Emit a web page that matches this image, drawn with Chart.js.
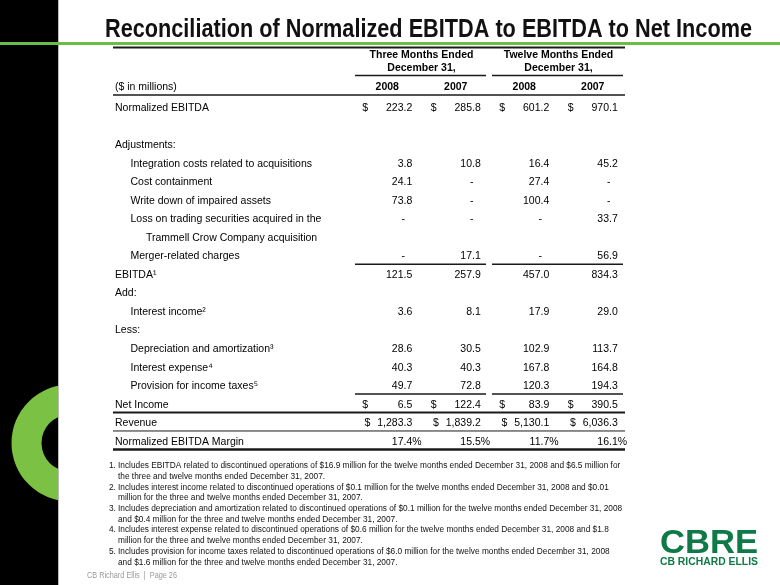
<!DOCTYPE html>
<html>
<head>
<meta charset="utf-8">
<script src="https://cdn.jsdelivr.net/npm/chart.js@4.4.1/dist/chart.umd.min.js"></script>
<style>
  html, body { margin: 0; padding: 0; background: #fff; overflow: hidden; }
  canvas { display: block; }
</style>
</head>
<body>
<canvas id="reconChart" width="780" height="585"></canvas>
<script>
// ---- data ----
const columns = ['Q4 2008', 'Q4 2007', 'FY 2008', 'FY 2007'];
const yearLabels = ['2008', '2007', '2008', '2007'];
const periodHeaders = [['Three Months Ended', 'December 31,'], ['Twelve Months Ended', 'December 31,']];

const rowLabels = [
  'Normalized EBITDA', '', 'Adjustments:',
  'Integration costs related to acquisitions', 'Cost containment', 'Write down of impaired assets',
  'Loss on trading securities acquired in the', 'Trammell Crow Company acquisition', 'Merger-related charges',
  'EBITDA¹', 'Add:', 'Interest income²', 'Less:',
  'Depreciation and amortization³', 'Interest expense⁴', 'Provision for income taxes⁵',
  'Net Income', 'Revenue', 'Normalized EBITDA Margin'
];
const rowIndent = [0, 0, 0, 1, 1, 1, 1, 2, 1, 0, 0, 1, 0, 1, 1, 1, 0, 0, 0];

// null = "-" on the slide
const normalizedEbitda = [223.2, 285.8, 601.2, 970.1];
const integrationCosts = [3.8, 10.8, 16.4, 45.2];
const costContainment  = [24.1, null, 27.4, null];
const impairedAssets   = [73.8, null, 100.4, null];
const tradingLoss      = [null, null, null, 33.7];
const mergerCharges    = [null, 17.1, null, 56.9];
const ebitda           = [121.5, 257.9, 457.0, 834.3];
const interestIncome   = [3.6, 8.1, 17.9, 29.0];
const depreciation     = [28.6, 30.5, 102.9, 113.7];
const interestExpense  = [40.3, 40.3, 167.8, 164.8];
const incomeTaxes      = [49.7, 72.8, 120.3, 194.3];
const netIncome        = [6.5, 122.4, 83.9, 390.5];
const revenue          = [1283.3, 1839.2, 5130.1, 6036.3];
const ebitdaMargin     = [17.4, 15.5, 11.7, 16.1];

const footnotes = [
  ['Includes EBITDA related to discontinued operations of $16.9 million for the twelve months ended December 31, 2008 and $6.5 million for',
   'the three and twelve months ended December 31, 2007.'],
  ['Includes interest income related to discontinued operations of $0.1 million for the twelve months ended December 31, 2008 and $0.01',
   'million for the three and twelve months ended December 31, 2007.'],
  ['Includes depreciation and amortization related to discontinued operations of $0.1 million for the twelve months ended December 31, 2008',
   'and $0.4 million for the three and twelve months ended December 31, 2007.'],
  ['Includes interest expense related to discontinued operations of $0.6 million for the twelve months ended December 31, 2008 and $1.8',
   'million for the three and twelve months ended December 31, 2007.'],
  ['Includes provision for income taxes related to discontinued operations of $6.0 million for the twelve months ended December 31, 2008',
   'and $1.6 million for the three and twelve months ended December 31, 2007.']
];

// which row gets which series
const rowSeries = {
  'Normalized EBITDA': normalizedEbitda,
  'Integration costs related to acquisitions': integrationCosts,
  'Cost containment': costContainment,
  'Write down of impaired assets': impairedAssets,
  'Loss on trading securities acquired in the': tradingLoss,
  'Merger-related charges': mergerCharges,
  'EBITDA¹': ebitda,
  'Interest income²': interestIncome,
  'Depreciation and amortization³': depreciation,
  'Interest expense⁴': interestExpense,
  'Provision for income taxes⁵': incomeTaxes,
  'Net Income': netIncome,
  'Revenue': revenue,
  'Normalized EBITDA Margin': ebitdaMargin
};
const dollarRows = ['Normalized EBITDA', 'Net Income', 'Revenue'];
const percentRows = ['Normalized EBITDA Margin'];

const FONT = "'Liberation Sans', Arial, sans-serif";
const GREEN = '#7bc143';

function fmt(v) {
  return v.toLocaleString('en-US', { minimumFractionDigits: 1, maximumFractionDigits: 1 });
}

function fitText(ctx, text, x, yb, width, font) {
  ctx.save();
  ctx.font = font;
  const m = ctx.measureText(text).width;
  ctx.translate(x, yb);
  ctx.scale(width / m, 1);
  ctx.textAlign = 'left';
  ctx.textBaseline = 'alphabetic';
  ctx.fillText(text, 0, 0);
  ctx.restore();
}

function hline(ctx, x1, x2, y, lw) {
  ctx.beginPath();
  ctx.lineWidth = lw;
  ctx.moveTo(x1, y);
  ctx.lineTo(x2, y);
  ctx.stroke();
}

// one dataset per column, one point per row that carries a value
const datasets = columns.map((col, c) => ({
  label: col,
  data: rowLabels.filter(l => rowSeries[l]).map(l => ({ x: col, y: l, v: rowSeries[l][c] })),
  showLine: false,
  pointRadius: 0,
  pointHoverRadius: 0
}));

const tablePlugin = {
  id: 'tablePlugin',
  beforeDraw(chart) {
    const ctx = chart.ctx;
    const xs = chart.scales.x, ys = chart.scales.y;
    const top = ys.top;
    const w = xs.width / columns.length;
    const cx = i => xs.getPixelForValue(i);
    const tableL = 113, tableR = 625;

    ctx.save();
    ctx.fillStyle = '#fff';
    ctx.fillRect(0, 0, chart.width, chart.height);

    // left black band with the green ring
    ctx.fillStyle = '#000';
    ctx.fillRect(0, 0, 58, chart.height);
    ctx.save();
    ctx.beginPath();
    ctx.rect(0, 0, 58, chart.height);
    ctx.clip();
    ctx.beginPath();
    ctx.arc(70, 443, 58.5, 0, Math.PI * 2);
    ctx.arc(70, 443, 28.5, 0, Math.PI * 2, true);
    ctx.fillStyle = GREEN;
    ctx.fill();
    ctx.restore();
    ctx.fillStyle = '#bdbdbd';
    ctx.fillRect(58, 0, 1, chart.height);

    // title + green rule
    ctx.fillStyle = '#111';
    fitText(ctx, 'Reconciliation of Normalized EBITDA to EBITDA to Net Income', 105, 37, 647,
      "bold 26px 'Liberation Sans Narrow', " + FONT);
    ctx.fillStyle = '#6cbd45';
    ctx.fillRect(0, 42, chart.width, 3);

    // header block
    ctx.strokeStyle = '#1a1a1a';
    hline(ctx, tableL, tableR, top - 51, 2);
    ctx.fillStyle = '#000';
    ctx.textBaseline = 'middle';
    ctx.textAlign = 'center';
    ctx.font = 'bold 10.5px ' + FONT;
    periodHeaders.forEach((lines, g) => {
      const a = cx(g * 2), b = cx(g * 2 + 1);
      const mid = (a + b) / 2 + 2;
      ctx.fillText(lines[0], mid, top - 43.5);
      ctx.fillText(lines[1], mid, top - 30.5);
      hline(ctx, a - w / 2 + 4, b + w / 2 - 2, top - 23, 1.5);
    });
    yearLabels.forEach((yr, i) => ctx.fillText(yr, cx(i) + 2, top - 11.5));
    ctx.textAlign = 'left';
    ctx.font = '10.5px ' + FONT;
    ctx.fillText('($ in millions)', 115, top - 11.5);
    hline(ctx, tableL, tableR, top - 3.5, 1.5);

    // row labels
    const step = ys.height / rowLabels.length;
    rowLabels.forEach((lab, i) => {
      if (!lab) return;
      ctx.fillText(lab, 115 + rowIndent[i] * 15.5, ys.getPixelForValue(i) + 0.5);
    });

    // rules under the rows
    const below = i => ys.getPixelForValue(i) + step / 2 - 1;
    const groupRule = yy => {
      for (let g = 0; g < 2; g++) {
        hline(ctx, cx(g * 2) - w / 2 + 4, cx(g * 2 + 1) + w / 2 - 2, yy, 1.5);
      }
    };
    groupRule(below(rowLabels.indexOf('Merger-related charges')));
    groupRule(below(rowLabels.indexOf('Provision for income taxes⁵')));
    hline(ctx, tableL, tableR, below(rowLabels.indexOf('Net Income')), 2);
    hline(ctx, tableL, tableR, below(rowLabels.indexOf('Revenue')), 1);
    hline(ctx, tableL, tableR, below(rowLabels.indexOf('Normalized EBITDA Margin')), 2.5);

    // footnotes
    ctx.font = '10px ' + FONT;
    const fsize = 10 * 503 / ctx.measureText(footnotes[0][0]).width;
    ctx.font = fsize.toFixed(2) + 'px ' + FONT;
    ctx.fillStyle = '#111';
    ctx.textBaseline = 'middle';
    let fy = 466;
    footnotes.forEach((lines, k) => {
      ctx.fillText((k + 1) + '.', 109, fy);
      lines.forEach(t => { ctx.fillText(t, 118, fy); fy += 10.7; });
    });

    // footer + logo
    ctx.fillStyle = '#9a9a9a';
    fitText(ctx, 'CB Richard Ellis  |  Page 26', 87, 578, 90, '9px ' + FONT);
    ctx.fillStyle = '#0f7a47';
    fitText(ctx, 'CBRE', 660, 553, 98, 'bold 34px ' + FONT);
    fitText(ctx, 'CB RICHARD ELLIS', 660, 565, 98, 'bold 10px ' + FONT);
    ctx.restore();
  },
  afterDatasetsDraw(chart) {
    const ctx = chart.ctx;
    ctx.save();
    ctx.font = '10.5px ' + FONT;
    ctx.fillStyle = '#000';
    ctx.textBaseline = 'middle';
    chart.data.datasets.forEach((ds, c) => {
      const meta = chart.getDatasetMeta(c);
      meta.data.forEach((pt, i) => {
        const raw = ds.data[i];
        const right = pt.x + 27;
        const yy = pt.y + 0.5;
        if (raw.v === null) {
          ctx.textAlign = 'center';
          ctx.fillText('-', right - 9, yy);
          return;
        }
        const txt = fmt(raw.v);
        ctx.textAlign = 'right';
        ctx.fillText(txt, right, yy);
        if (percentRows.includes(raw.y)) {
          ctx.textAlign = 'left';
          ctx.fillText('%', right, yy);
        }
        if (dollarRows.includes(raw.y)) {
          if (raw.y === 'Revenue') {
            const tw = ctx.measureText(txt).width;
            ctx.textAlign = 'right';
            ctx.fillText('$', right - tw - 7, yy);
          } else {
            ctx.textAlign = 'left';
            ctx.fillText('$', pt.x - 23, yy);
          }
        }
      });
    });
    ctx.restore();
  }
};

new Chart(document.getElementById('reconChart'), {
  type: 'line',
  data: { datasets },
  options: {
    responsive: false,
    devicePixelRatio: 1,
    animation: false,
    events: [],
    layout: { padding: { left: 351, right: 155, top: 98.5, bottom: 134.5 } },
    plugins: { legend: { display: false }, tooltip: { enabled: false } },
    scales: {
      x: { type: 'category', labels: columns, offset: true, display: false },
      y: { type: 'category', labels: rowLabels, offset: true, display: false }
    }
  },
  plugins: [tablePlugin]
});
</script>
</body>
</html>
